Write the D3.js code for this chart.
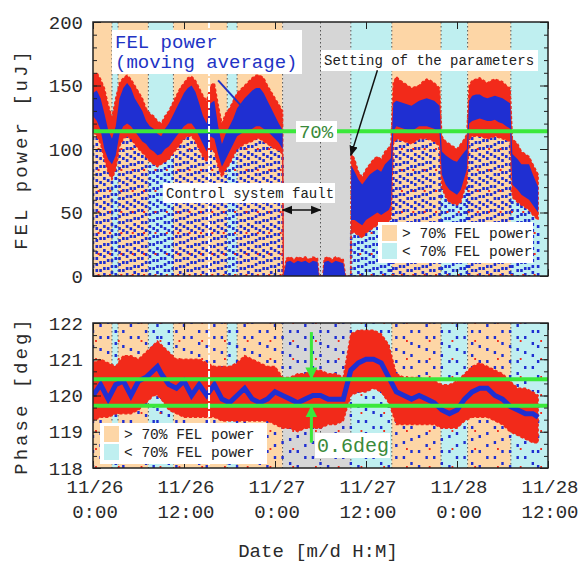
<!DOCTYPE html>
<html>
<head>
<meta charset="utf-8">
<script src="https://cdn.jsdelivr.net/npm/d3@7"></script>
<style>
  body { margin: 0; background: #fff; }
  svg { display: block; }
</style>
</head>
<body>
<div id="chart"></div>
<script>
// hours since 11/26 0:00
const powerHours = [0,0.5,1,1.5,2,2.5,3,3.5,4,4.5,5,5.5,6,6.5,7,7.5,8,8.5,9,9.5,10,10.5,11,11.5,12,12.5,13,13.5,14,14.5,15,15.5,16,16.5,17,17.5,18,18.5,19,19.5,20,20.5,21,21.5,22,22.5,23,23.5,24,24.5,25,
  25.1,25.5,26,26.5,27,27.5,28,28.5,29,29.6,29.8,30.3,30.5,31,31.5,32,32.5,33,33.3,34,
  34.05,34.5,35,35.5,36,36.5,37,37.5,38,38.5,39,39.3,39.6,40,40.5,41,41.5,42,42.5,43,43.5,44,44.5,45,45.7,
  46,46.5,47,47.5,48,48.5,49,49.3,49.6,50,50.5,51,51.5,52,52.5,53,53.5,54,54.5,55,55.3,56,56.5,57,57.5,58,58.7];
const powerRedHi = [158,160,155,148,135,125,140,152,156,158,155,150,145,140,132,128,126,122,120,126,130,136,142,148,152,156,157,154,148,142,138,150,152,135,120,128,132,138,144,147,150,153,156,158,158,156,150,145,140,135,130,
  0,14,15,13,15,14,15,13,15,14,0,0,14,15,13,15,14,13,0,0,
  97,92,82,78,84,88,92,94,92,98,101,104,152,157,154,152,150,148,149,150,153,155,154,152,148,
  110,106,104,102,100,104,108,112,150,154,155,156,154,152,154,155,154,153,150,148,108,104,98,96,94,88,80];
const powerBlueHi = [144,146,140,128,115,108,118,140,148,152,148,140,135,130,122,118,116,112,110,116,120,126,132,138,144,148,150,145,136,126,120,136,138,118,104,112,118,124,132,136,140,143,146,148,148,144,138,132,126,120,115,
  0,11,12,10,12,11,12,10,12,11,0,0,11,12,10,12,11,10,0,0,
  87,82,76,72,76,80,82,84,82,88,91,93,136,138,137,136,135,134,136,138,139,140,139,138,134,
  98,95,93,91,90,94,98,100,138,142,143,143,141,140,141,142,141,140,138,136,96,92,88,88,88,80,70];
const powerBlueLo = [126,122,115,100,92,88,95,112,118,120,118,114,110,106,104,100,98,95,96,100,102,106,110,114,118,120,120,116,110,104,98,110,108,96,86,92,98,104,110,112,114,115,116,118,118,116,114,111,108,105,100,
  0,0,0,0,0,0,0,0,0,0,0,0,0,0,0,0,0,0,0,0,
  44,44,42,40,44,46,48,50,48,50,52,56,114,118,117,116,115,114,116,118,118,118,117,116,112,
  80,72,68,66,64,68,78,84,120,122,123,124,123,122,122,123,121,120,118,116,72,68,64,62,60,56,50];
const powerRedLo = [114,110,104,92,82,76,84,102,108,110,108,104,100,97,94,90,88,86,88,90,92,96,100,104,108,110,110,106,100,94,90,100,98,86,78,84,88,94,100,102,104,105,106,108,108,106,104,102,100,99,96,
  0,0,0,0,0,0,0,0,0,0,0,0,0,0,0,0,0,0,0,0,
  34,34,32,30,34,36,38,40,38,40,42,46,104,108,107,106,105,104,106,108,108,108,107,106,102,
  70,62,58,57,56,58,68,72,108,110,110,110,109,108,109,110,109,108,107,106,62,58,56,54,52,48,44];

const phaseHours = [0,1,2,3,4,5,6,7,8,8.5,9,10,11,12,13,14,15,16,17,18,19,20,21,22,23,24,25,26,27,28,29,30,31,32,33,
  34,35,36,37,38,39,40,41,42,43,44,45,46,47,48,49,50,51,52,53,54,55,56,57,58,58.7];
const phaseRedHi = [120.9,121.0,120.9,120.8,121.1,121.1,121.0,121.2,121.4,121.5,121.4,121.2,121.0,121.0,121.0,121.0,120.9,120.8,120.8,120.8,120.9,121.1,121.0,120.9,120.8,120.8,120.5,120.5,120.6,120.6,120.7,120.7,120.6,120.6,120.5,
  121.7,121.8,121.8,121.8,121.7,121.4,120.6,120.5,120.5,120.5,120.4,120.4,120.3,120.3,120.4,120.6,120.8,120.9,120.8,120.7,120.6,120.4,120.2,120.2,120.1,120.0];
const phaseRedLo = [119.3,119.4,119.4,119.5,119.5,119.5,119.6,119.8,120.0,120.0,119.9,119.6,119.5,119.4,119.4,119.4,119.4,119.4,119.3,119.3,119.3,119.3,119.3,119.3,119.3,119.2,119.1,119.1,119.0,119.1,119.1,119.1,119.2,119.2,119.3,
  120.0,120.1,120.1,120.2,120.1,119.8,119.2,119.2,119.2,119.2,119.2,119.2,119.1,119.1,119.1,119.3,119.4,119.4,119.4,119.3,119.2,119.0,118.9,118.8,118.7,118.7];
const phaseAverage = [120.0,120.3,119.9,120.3,120.4,120.0,120.4,120.5,120.7,120.8,120.6,120.3,120.2,120.4,120.0,120.3,120.0,120.3,119.9,119.8,120.0,120.2,119.9,119.8,119.9,120.1,120.0,119.9,119.8,119.9,120.0,120.0,119.9,119.9,119.9,
  120.7,120.9,121.0,121.0,120.9,120.5,120.1,120.0,119.9,120.0,119.9,119.8,119.6,119.5,119.6,119.9,120.1,120.2,120.2,120.0,119.9,119.7,119.6,119.5,119.5,119.4];

// operating periods
const bandStart = [0,2.5,3.3,7.3,10.6,17.7,19,25,34,39.4,45.9,49.4,55.1];
const bandEnd   = [2.5,3.3,7.3,10.6,17.7,19,25,34,39.4,45.9,49.4,55.1,60];
const bandKind  = ["high","low","high","low","high","low","high","fault","low","high","low","high","low"];
const dividerHours = [2.5,3.3,7.3,10.6,17.7,19,25,30,34,39.4,45.9,49.4,55.1];
const gapHour = 15.3;

const powerTicks = [0,50,100,150,200];
const phaseTicks = [118,119,120,121,122];
const dateTicks = [0,12,24,36,48,60];
const powerThreshold = 114;
const phaseLimits = [120.45,119.72];


/*******************************/
/*    Declare the constants    */
/*******************************/
const width = 582;
const height = 563;
const left = 93, right = 548;
const topPanel = {top: 22, bottom: 276};
const botPanel = {top: 323, bottom: 468};
const font = "'Liberation Mono', 'DejaVu Sans Mono', monospace";

const bandColour = {high: "#fdd6a6", low: "#bfeff0", fault: "#d6d6d6"};
const red = "#f22a1a";
const blue = "#1f2fd2";
const green = "#3be83b";

const baseDate = new Date(2014, 10, 26, 0, 0);
const toDate = h => new Date(baseDate.getTime() + h * 3600 * 1000);

const xScale = d3.scaleLinear().domain([0, 60]).range([left, right]);
const yPower = d3.scaleLinear().domain([0, 200]).range([topPanel.bottom, topPanel.top]);
const yPhase = d3.scaleLinear().domain([118, 122]).range([botPanel.bottom, botPanel.top]);

const power = powerHours.map((h, i) => ({h, rh: powerRedHi[i], bh: powerBlueHi[i], bl: powerBlueLo[i], rl: powerRedLo[i]}));
const phase = phaseHours.map((h, i) => ({h, rh: phaseRedHi[i], rl: phaseRedLo[i], avg: phaseAverage[i]}));
const bands = bandStart.map((s, i) => ({s, e: bandEnd[i], kind: bandKind[i]}));


/*******************************/
/*    Append the containers    */
/*******************************/
const svg = d3.select("#chart")
  .append("svg")
    .attr("width", width)
    .attr("height", height)
    .attr("font-family", font);

const drawPanel = (yScale, panel, name) => {
  const g = svg.append("g").attr("class", name);
  g.append("clipPath").attr("id", "clip-" + name)
    .append("rect")
      .attr("x", left).attr("y", panel.top)
      .attr("width", right - left).attr("height", panel.bottom - panel.top);
  const inner = g.append("g").attr("clip-path", `url(#clip-${name})`);

  inner.selectAll(".band")
    .data(bands)
    .join("rect")
      .attr("x", d => xScale(d.s))
      .attr("y", panel.top)
      .attr("width", d => xScale(d.e) - xScale(d.s))
      .attr("height", panel.bottom - panel.top)
      .attr("fill", d => bandColour[d.kind]);

  inner.selectAll(".divider")
    .data(dividerHours)
    .join("line")
      .attr("x1", d => xScale(d)).attr("x2", d => xScale(d))
      .attr("y1", panel.top).attr("y2", panel.bottom)
      .attr("stroke", "#555")
      .attr("stroke-width", 1)
      .attr("stroke-dasharray", "1.5,2.5");
  return inner;
};


/*******************************/
/*         FEL power           */
/*******************************/
const powerPlot = drawPanel(yPower, topPanel, "power");

// drop-outs below the band
powerPlot.selectAll(".drop")
  .data(power.filter(d => d.rl > 0))
  .join("line")
    .attr("x1", d => xScale(d.h)).attr("x2", d => xScale(d.h))
    .attr("y1", yPower(0)).attr("y2", d => yPower(d.rl))
    .attr("stroke", blue)
    .attr("stroke-width", 2.6)
    .attr("stroke-dasharray", (d, i) => i % 2 ? "3,3" : "3,5")
    .attr("stroke-dashoffset", (d, i) => i % 3 * 2);

powerPlot.selectAll(".drop-red")
  .data(power.filter((d, i) => d.rl > 0 && i % 3 === 1))
  .join("line")
    .attr("x1", d => xScale(d.h) + 1.8).attr("x2", d => xScale(d.h) + 1.8)
    .attr("y1", yPower(0)).attr("y2", d => yPower(d.rl))
    .attr("stroke", red)
    .attr("stroke-width", 2)
    .attr("stroke-dasharray", "2,19");

powerPlot.append("path")
  .datum(power)
  .attr("d", d3.area().x(d => xScale(d.h)).y0(d => yPower(d.rl)).y1(d => yPower(d.rh)))
  .attr("fill", red)
  .attr("stroke", red)
  .attr("stroke-width", 1.5)
  .attr("stroke-dasharray", "3,2");

powerPlot.append("path")
  .datum(power)
  .attr("d", d3.area().x(d => xScale(d.h)).y0(d => yPower(d.bl)).y1(d => yPower(d.bh)))
  .attr("fill", blue);

powerPlot.append("line")
  .attr("x1", left).attr("x2", right)
  .attr("y1", yPower(powerThreshold)).attr("y2", yPower(powerThreshold))
  .attr("stroke", green)
  .attr("stroke-width", 4);

powerPlot.append("line")
  .attr("x1", xScale(gapHour)).attr("x2", xScale(gapHour))
  .attr("y1", topPanel.top).attr("y2", topPanel.bottom)
  .attr("stroke", "#fff")
  .attr("stroke-width", 2)
  .attr("stroke-dasharray", "6,2");


/*******************************/
/*           Phase             */
/*******************************/
const phasePlot = drawPanel(yPhase, botPanel, "phase");

phasePlot.selectAll(".drop")
  .data(phase)
  .join("line")
    .attr("x1", d => xScale(d.h)).attr("x2", d => xScale(d.h))
    .attr("y1", botPanel.bottom).attr("y2", botPanel.top)
    .attr("stroke", blue)
    .attr("stroke-width", 2.4)
    .attr("stroke-dasharray", (d, i) => i % 2 ? "3,9" : "3,12")
    .attr("stroke-dashoffset", (d, i) => i % 4 * 3);

phasePlot.selectAll(".drop-red")
  .data(phase.filter((d, i) => i % 3 === 0))
  .join("line")
    .attr("x1", d => xScale(d.h) + 3).attr("x2", d => xScale(d.h) + 3)
    .attr("y1", botPanel.bottom).attr("y2", botPanel.top)
    .attr("stroke", red)
    .attr("stroke-width", 1.8)
    .attr("stroke-dasharray", "2,16");

phasePlot.append("path")
  .datum(phase)
  .attr("d", d3.area().x(d => xScale(d.h)).y0(d => yPhase(d.rl)).y1(d => yPhase(d.rh)))
  .attr("fill", red)
  .attr("stroke", red)
  .attr("stroke-width", 1.5)
  .attr("stroke-dasharray", "3,2");

phasePlot.append("path")
  .datum(phase)
  .attr("d", d3.line().x(d => xScale(d.h)).y(d => yPhase(d.avg)))
  .attr("fill", "none")
  .attr("stroke", blue)
  .attr("stroke-width", 5);

phasePlot.selectAll(".limit")
  .data(phaseLimits)
  .join("line")
    .attr("x1", left).attr("x2", right)
    .attr("y1", d => yPhase(d)).attr("y2", d => yPhase(d))
    .attr("stroke", green)
    .attr("stroke-width", 4);

phasePlot.append("line")
  .attr("x1", xScale(gapHour)).attr("x2", xScale(gapHour))
  .attr("y1", botPanel.top).attr("y2", botPanel.bottom)
  .attr("stroke", "#fff")
  .attr("stroke-width", 2)
  .attr("stroke-dasharray", "6,2");


/*******************************/
/*        Axes and frames      */
/*******************************/
const styleAxis = g => {
  g.select(".domain").remove();
  g.selectAll("line").attr("stroke", "#222");
  g.selectAll("text")
    .attr("font-family", font)
    .attr("font-size", 19)
    .attr("fill", "#2a2a2a");
};

const yAxes = (yScale, major, minor, panel) => {
  svg.append("g").attr("transform", `translate(${left},0)`)
    .call(d3.axisLeft(yScale).tickValues(minor).tickSize(-4).tickFormat(""))
    .call(styleAxis);
  svg.append("g").attr("transform", `translate(${right},0)`)
    .call(d3.axisRight(yScale).tickValues(minor).tickSize(-4).tickFormat(""))
    .call(styleAxis);
  svg.append("g").attr("transform", `translate(${left},0)`)
    .call(d3.axisLeft(yScale).tickValues(major).tickSize(-8).tickPadding(10).tickFormat(d3.format("d")))
    .call(styleAxis);
  svg.append("g").attr("transform", `translate(${right},0)`)
    .call(d3.axisRight(yScale).tickValues(major).tickSize(-8).tickFormat(""))
    .call(styleAxis);
  svg.append("g").attr("transform", `translate(0,${panel.bottom})`)
    .call(d3.axisBottom(xScale).tickValues(dateTicks).tickSize(-7).tickFormat(""))
    .call(styleAxis);
  svg.append("g").attr("transform", `translate(0,${panel.top})`)
    .call(d3.axisTop(xScale).tickValues(dateTicks).tickSize(-7).tickFormat(""))
    .call(styleAxis);
  svg.append("rect")
    .attr("x", left).attr("y", panel.top)
    .attr("width", right - left).attr("height", panel.bottom - panel.top)
    .attr("fill", "none")
    .attr("stroke", "#222")
    .attr("stroke-width", 1.5);
};

yAxes(yPower, powerTicks, d3.range(0, 201, 10), topPanel);
yAxes(yPhase, phaseTicks, d3.range(0, 13).map(i => 118 + i / 3), botPanel);

// date labels in two lines
const dateLabels = svg.append("g")
  .selectAll("text")
  .data(dateTicks)
  .join("text")
    .attr("text-anchor", "middle")
    .attr("font-size", 19)
    .attr("fill", "#2a2a2a");
dateLabels.append("tspan")
  .attr("x", d => xScale(d) + 2).attr("y", 493)
  .text(d => d3.timeFormat("%m/%d")(toDate(d)));
dateLabels.append("tspan")
  .attr("x", d => xScale(d) + 2).attr("y", 518)
  .text(d => d3.timeFormat("%-H:%M")(toDate(d)));

svg.append("text")
  .text("Date [m/d H:M]")
  .attr("x", 318).attr("y", 557)
  .attr("text-anchor", "middle")
  .attr("font-size", 19)
  .attr("fill", "#2a2a2a");

svg.append("text")
  .text("FEL power [uJ]")
  .attr("transform", `translate(27,${(topPanel.top + topPanel.bottom) / 2}) rotate(-90)`)
  .attr("text-anchor", "middle")
  .attr("font-size", 19)
  .attr("letter-spacing", 3)
  .attr("fill", "#2a2a2a");

svg.append("text")
  .text("Phase [deg]")
  .attr("transform", `translate(27,${(botPanel.top + botPanel.bottom) / 2}) rotate(-90)`)
  .attr("text-anchor", "middle")
  .attr("font-size", 19)
  .attr("letter-spacing", 3)
  .attr("fill", "#2a2a2a");


/*******************************/
/*         Annotations         */
/*******************************/
const labelBox = (x, y, w, h) =>
  svg.append("rect").attr("x", x).attr("y", y).attr("width", w).attr("height", h).attr("fill", "#fff");

labelBox(112, 30, 190, 44);
svg.append("text")
  .attr("font-size", 19).attr("fill", "#2233c4")
  .selectAll("tspan")
  .data(["FEL power", "(moving average)"])
  .join("tspan")
    .attr("x", 115)
    .attr("y", (d, i) => 48 + i * 20)
    .text(d => d);

svg.append("line")
  .attr("x1", xScale(16.5)).attr("y1", yPower(154))
  .attr("x2", xScale(19.7)).attr("y2", yPower(133))
  .attr("stroke", "#2233c4").attr("stroke-width", 2);

labelBox(296, 121, 41, 21);
svg.append("text")
  .text("70%")
  .attr("x", 316).attr("y", 138)
  .attr("text-anchor", "middle")
  .attr("font-size", 19)
  .attr("fill", "#3a8a3a");

labelBox(321, 50, 217, 21);
svg.append("text")
  .text("Setting of the parameters")
  .attr("x", 324).attr("y", 65)
  .attr("font-size", 14)
  .attr("fill", "#222");

const defs = svg.append("defs");
defs.append("marker")
  .attr("id", "arrow")
  .attr("viewBox", "0 0 10 10")
  .attr("refX", 9).attr("refY", 5)
  .attr("markerWidth", 7).attr("markerHeight", 7)
  .attr("orient", "auto-start-reverse")
  .append("path")
    .attr("d", "M0,1 L10,5 L0,9 Z")
    .attr("fill", "#111");
defs.append("marker")
  .attr("id", "arrow-green")
  .attr("viewBox", "0 0 10 10")
  .attr("refX", 9).attr("refY", 5)
  .attr("markerWidth", 4).attr("markerHeight", 4)
  .attr("orient", "auto")
  .append("path")
    .attr("d", "M0,0 L10,5 L0,10 Z")
    .attr("fill", green);

svg.append("line")
  .attr("x1", xScale(37.5)).attr("y1", yPower(162))
  .attr("x2", xScale(34)).attr("y2", yPower(95))
  .attr("stroke", "#111").attr("stroke-width", 1.5)
  .attr("marker-end", "url(#arrow)");

labelBox(163, 183, 172, 20);
svg.append("text")
  .text("Control system fault")
  .attr("x", 166).attr("y", 198)
  .attr("font-size", 14)
  .attr("fill", "#222");

svg.append("line")
  .attr("x1", xScale(25)).attr("y1", yPower(52))
  .attr("x2", xScale(30)).attr("y2", yPower(52))
  .attr("stroke", "#111").attr("stroke-width", 1.5)
  .attr("marker-start", "url(#arrow)")
  .attr("marker-end", "url(#arrow)");

// 0.6deg arrows
svg.append("line")
  .attr("x1", xScale(28.8)).attr("x2", xScale(28.8))
  .attr("y1", yPhase(121.75)).attr("y2", yPhase(phaseLimits[0]) - 1)
  .attr("stroke", green).attr("stroke-width", 3)
  .attr("marker-end", "url(#arrow-green)");
svg.append("line")
  .attr("x1", xScale(28.8)).attr("x2", xScale(28.8))
  .attr("y1", yPhase(118.7)).attr("y2", yPhase(phaseLimits[1]) + 1)
  .attr("stroke", green).attr("stroke-width", 3)
  .attr("marker-end", "url(#arrow-green)");

labelBox(315, 433, 75, 25);
svg.append("text")
  .text("0.6deg")
  .attr("x", 317).attr("y", 452)
  .attr("font-size", 20)
  .attr("fill", "#3a8a3a");


/*******************************/
/*           Legends           */
/*******************************/
const legendItems = [
  {label: "> 70% FEL power", kind: "high"},
  {label: "< 70% FEL power", kind: "low"}
];

const drawLegend = (x, y, w) => {
  const lg = svg.append("g").attr("transform", `translate(${x},${y})`);
  lg.append("rect").attr("width", w).attr("height", 41).attr("fill", "#fff");
  const item = lg.selectAll("g")
    .data(legendItems)
    .join("g")
      .attr("transform", (d, i) => `translate(4,${3 + i * 18})`);
  item.append("rect")
    .attr("width", 15).attr("height", 16)
    .attr("fill", d => bandColour[d.kind]);
  item.append("text")
    .text(d => d.label)
    .attr("x", 20).attr("y", 13)
    .attr("font-size", 14.5)
    .attr("fill", "#222");
};

drawLegend(378, 222, 155);
drawLegend(100, 423, 167);
</script>
</body>
</html>
